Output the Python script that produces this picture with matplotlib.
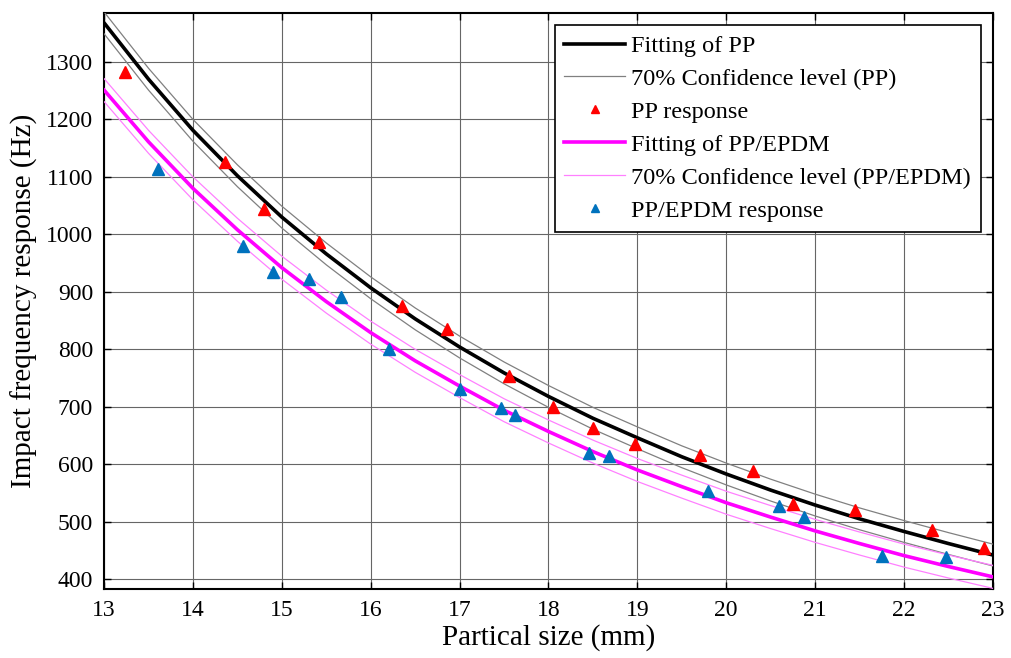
#!/usr/bin/env python3
# impact frequency response vs particle size, PP and PP/EPDM
import numpy as np
import matplotlib
matplotlib.use("Agg")
import matplotlib.pyplot as plt

# fitted curves, every 0.5 mm
FIT_X = [13, 13.5, 14, 14.5, 15, 15.5, 16, 16.5, 17, 17.5, 18,
         18.5, 19, 19.5, 20, 20.5, 21, 21.5, 22, 22.5, 23]
PP_FIT = [1368, 1270, 1181, 1102, 1030, 966, 907, 853, 804, 759, 718,
          680, 646, 613, 583, 555, 529, 505, 483, 462, 442]
PPE_FIT = [1251, 1161, 1080, 1008, 942, 883, 829, 780, 736, 694, 657,
           622, 590, 561, 533, 508, 484, 462, 441, 422, 404]
# half width of the 70% confidence band (Hz)
PP_BAND = 19
PPE_BAND = 20

# measured responses
PP_X = [13.24, 14.36, 14.80, 15.42, 16.35, 16.86, 17.56, 18.05, 18.50,
        18.97, 19.70, 20.30, 20.75, 21.45, 22.32, 22.90]
PP_Y = [1283, 1126, 1045, 987, 876, 836, 754, 700, 663,
        636, 616, 588, 530, 520, 485, 454]
PPE_X = [13.61, 14.56, 14.90, 15.30, 15.67, 16.20, 17.00, 17.47, 17.62,
         18.46, 18.68, 19.80, 20.59, 20.88, 21.75, 22.47]
PPE_Y = [1114, 980, 935, 922, 891, 800, 731, 697, 685,
         620, 614, 554, 527, 508, 441, 438]

Y_TICKS = list(range(400, 1301, 100))
X_TICKS = list(range(13, 24))

plt.rcParams["font.family"] = ["Liberation Serif", "DejaVu Serif"]

fig = plt.figure(figsize=(10.11, 6.58), dpi=100)
ax = fig.add_axes([0.103, 0.105, 0.879, 0.875])

fx = np.array(FIT_X)
pp = np.array(PP_FIT)
ppe = np.array(PPE_FIT)

ax.plot(fx, pp, color="black", lw=2.6, label="Fitting of PP", zorder=4)
ax.plot(fx, pp + PP_BAND, color="#808080", lw=0.9,
        label="70% Confidence level (PP)", zorder=3)
ax.plot(fx, pp - PP_BAND, color="#808080", lw=0.9, zorder=3)
ax.plot(PP_X, PP_Y, ls="none", marker="^", ms=8, color="#ff0000",
        mec="#ff0000", label="PP response", zorder=5)
ax.plot(fx, ppe, color="#ff00ff", lw=2.6, label="Fitting of PP/EPDM", zorder=4)
ax.plot(fx, ppe + PPE_BAND, color="#ff80ff", lw=0.9,
        label="70% Confidence level (PP/EPDM)", zorder=3)
ax.plot(fx, ppe - PPE_BAND, color="#ff80ff", lw=0.9, zorder=3)
ax.plot(PPE_X, PPE_Y, ls="none", marker="^", ms=8, color="#0072bd",
        mec="#0072bd", label="PP/EPDM response", zorder=5)

ax.set_xlim(13, 23)
ax.set_ylim(383, 1385)
ax.set_xticks(X_TICKS)
ax.set_yticks(Y_TICKS)
ax.tick_params(direction="in", length=5, width=1, labelsize=17,
               top=True, right=True, pad=8)
ax.grid(True, color="#666666", lw=0.8)
for s in ax.spines.values():
    s.set_linewidth(1.5)

ax.set_xlabel("Partical size (mm)", fontsize=21, labelpad=2)
ax.set_ylabel("Impact frequency response (Hz)", fontsize=21, labelpad=6)

leg = ax.legend(loc="upper right", fontsize=17.5, frameon=True, fancybox=False,
                edgecolor="black", framealpha=1, handlelength=2.5,
                handletextpad=0.25, borderaxespad=0.5, borderpad=0.4,
                labelspacing=0.45, markerscale=0.7)
leg.get_frame().set_linewidth(1.2)

fig.savefig("out.png", dpi=100)
